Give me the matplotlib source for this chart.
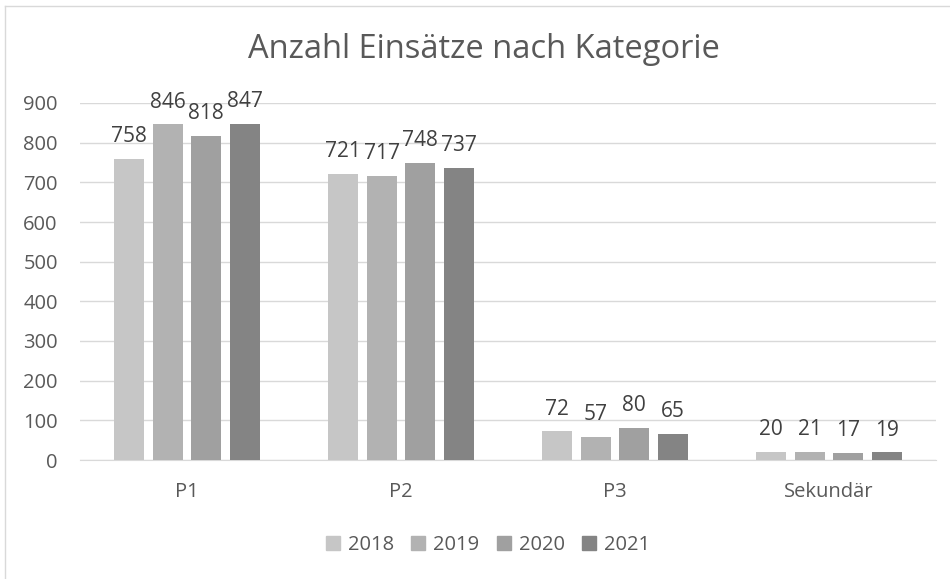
import matplotlib
matplotlib.use("Agg")
import matplotlib.pyplot as plt
from matplotlib.lines import Line2D
import numpy as np

categories = ["P1", "P2", "P3", "Sekundär"]
years = ["2018", "2019", "2020", "2021"]
v2018 = [758, 721, 72, 20]
v2019 = [846, 717, 57, 21]
v2020 = [818, 748, 80, 17]
v2021 = [847, 737, 65, 19]
series = [v2018, v2019, v2020, v2021]
colors = ["#c6c6c6", "#b2b2b2", "#a0a0a0", "#848484"]

plt.rcParams['font.family'] = ['Open Sans', 'DejaVu Sans']
txt = "#595959"

fig = plt.figure(figsize=(9.5, 5.79), dpi=100)
ax = fig.add_axes([80/950, 1-460/579, 856/950, 357/579])

x = np.arange(len(categories))
step = 0.181
width = 0.14
for i, (vals, c, yr) in enumerate(zip(series, colors, years)):
    pos = x + (i - 1.5) * step
    bars = ax.bar(pos, vals, width=width, color=c, label=yr, zorder=3)
    for b, v in zip(bars, vals):
        ax.text(b.get_x() + b.get_width()/2, v + 30, str(v), ha="center", va="bottom",
                fontsize=15, color="#404040", zorder=4)

ax.set_xlim(-0.5, 3.5)
ax.set_ylim(0, 900)
ax.set_yticks(range(0, 901, 100))
ax.set_xticks(x)
ax.set_xticklabels(categories)
ax.yaxis.grid(True, color="#d9d9d9", linewidth=1, zorder=0)
for s in ["top", "right", "left"]:
    ax.spines[s].set_visible(False)
ax.spines["bottom"].set_color("#d9d9d9")
ax.tick_params(axis="both", length=0, labelsize=14.5, labelcolor=txt)
ax.tick_params(axis="y", pad=16)
ax.tick_params(axis="x", pad=16)

fig.text(484/950, 1-50/579, "Anzahl Einsätze nach Kategorie", ha="center", va="center",
         fontsize=23.5, color=txt)

handles = [plt.Rectangle((0, 0), 1, 1, color=c) for c in colors]
fig.legend(handles, years, loc="center", bbox_to_anchor=(488/950, 1-545/579), ncol=4,
           frameon=False, fontsize=14.5, labelcolor=txt, handlelength=0.7, handleheight=0.7,
           handletextpad=0.4, columnspacing=0.85)

# chart area border (left and top visible)
fig.add_artist(Line2D([5/950, 5/950], [0, 1-6/579], transform=fig.transFigure, color="#d9d9d9", lw=1))
fig.add_artist(Line2D([5/950, 1], [1-6/579, 1-6/579], transform=fig.transFigure, color="#d9d9d9", lw=1))

fig.savefig("out.png", dpi=100)
